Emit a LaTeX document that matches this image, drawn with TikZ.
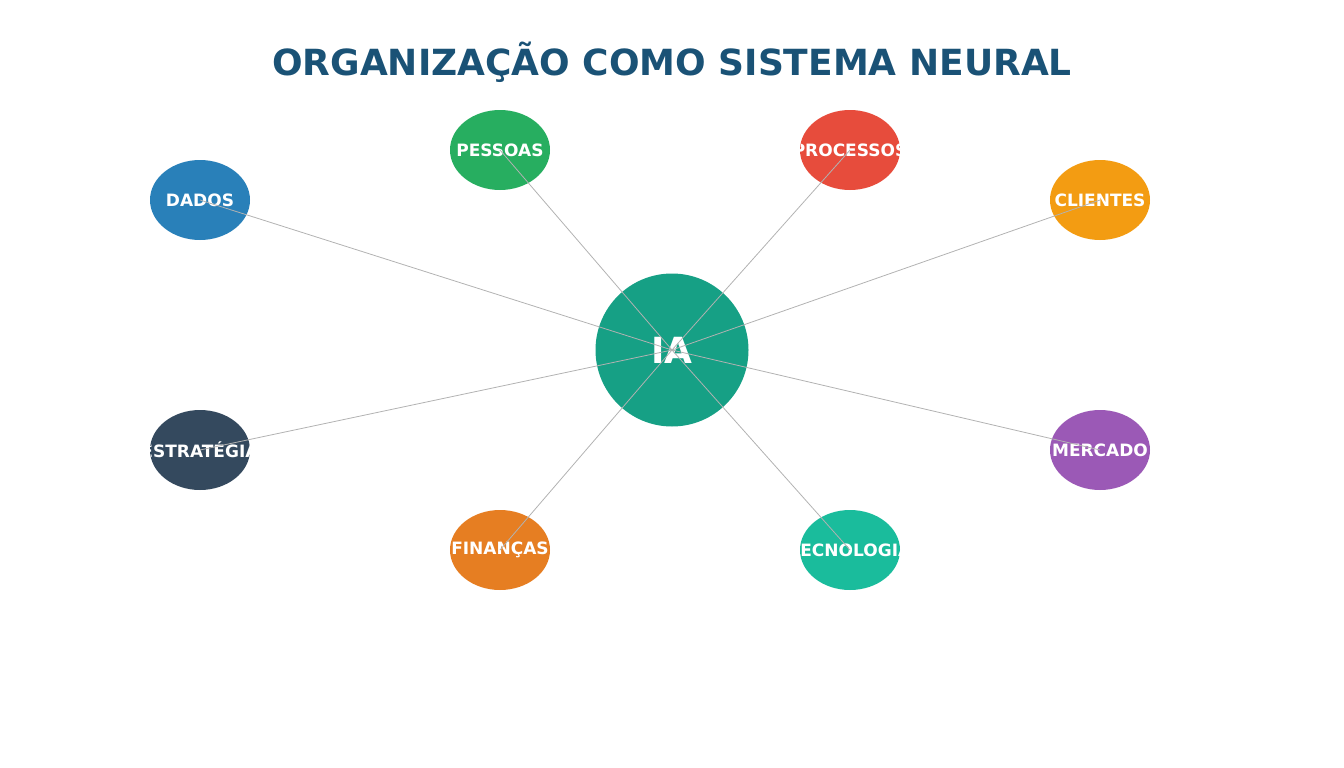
\documentclass[tikz,border=0pt]{standalone}
\usepackage{fontspec}
\setmainfont{DejaVu Sans}
\usetikzlibrary{shapes.geometric}
\definecolor{cDADOS}{HTML}{2980B9}
\definecolor{cPESSOAS}{HTML}{27AE60}
\definecolor{cPROC}{HTML}{E74C3C}
\definecolor{cCLI}{HTML}{F39C12}
\definecolor{cEST}{HTML}{34495E}
\definecolor{cFIN}{HTML}{E67E22}
\definecolor{cTEC}{HTML}{1ABC9C}
\definecolor{cMER}{HTML}{9B59B6}
\definecolor{cIA}{HTML}{16A085}
\definecolor{ctitle}{HTML}{1A5276}
\tikzset{
 ell/.style={ellipse, minimum width=100pt, minimum height=80pt, inner sep=0pt, draw=none},
 lbl/.style={text=white, font=\bfseries\fontsize{17}{20}\selectfont, inner sep=0pt},
 link/.style={draw=black!30, line width=0.8pt}
}
\newcommand{\unit}[4]{%
 \node[ell, fill=#3] (#1) at (#2) {};
 \begin{scope}\clip (#2) ellipse (50pt and 40pt);
 \node[lbl] at (#2) {#4};\end{scope}}
\begin{document}
\begin{tikzpicture}[x=1pt,y=-1pt]
\useasboundingbox (0,0) rectangle (1344,768);
\node[text=ctitle, font=\bfseries\fontsize{36}{40}\selectfont] (title) at (672,62) {ORGANIZAÇÃO COMO SISTEMA NEURAL};
\node[circle, minimum size=153pt, fill=cIA, inner sep=0pt] (ia) at (672,350) {};
\unit{dados}{200,200}{cDADOS}{DADOS}
\unit{pessoas}{500,150}{cPESSOAS}{PESSOAS}
\unit{proc}{850,150}{cPROC}{PROCESSOS}
\unit{cli}{1100,200}{cCLI}{CLIENTES}
\unit{est}{200,450}{cEST}{ESTRATÉGIA}
\unit{fin}{500,550}{cFIN}{FINANÇAS}
\unit{tec}{850,550}{cTEC}{TECNOLOGIA}
\unit{mer}{1100,450}{cMER}{MERCADO}
\node[text=white, font=\bfseries\fontsize{36}{40}\selectfont] (ialbl) at (672,350) {IA};
\foreach \n in {dados,pessoas,proc,cli,est,fin,tec,mer}
 \draw[link] (ia.center) -- (\n.center);
\end{tikzpicture}
\end{document}
